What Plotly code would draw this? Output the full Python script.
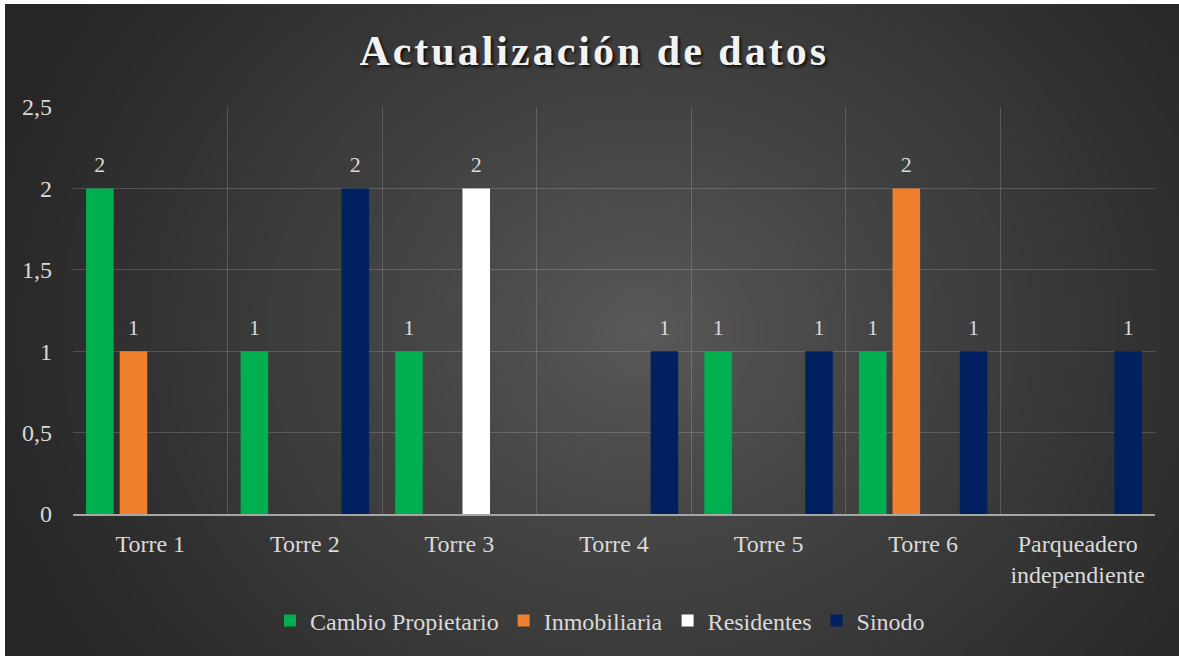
import base64
import struct
import zlib

import plotly.graph_objects as go

# data
categories = ['Torre 1', 'Torre 2', 'Torre 3', 'Torre 4', 'Torre 5', 'Torre 6',
              'Parqueadero<br>independiente']
cambio_propietario = [2, 1, 1, 0, 1, 1, 0]
inmobiliaria = [1, 0, 0, 0, 0, 2, 0]
residentes = [0, 0, 2, 0, 0, 0, 0]
sinodo = [0, 2, 0, 1, 1, 1, 1]

series = [
    ('Cambio Propietario', cambio_propietario, '#00B050'),
    ('Inmobiliaria', inmobiliaria, '#F07F2E'),
    ('Residentes', residentes, '#FFFFFF'),
    ('Sinodo', sinodo, '#002060'),
]

W, H = 1179, 656
L, R, T, B = 73, 24, 107, 142


# dark radial background (Excel style), drawn as a small png stretched over the page
def radial_png(w, h):
    cx, cy, rx, ry = 0.54 * w, 0.50 * h, 0.58 * w, 0.90 * h
    rows = []
    for j in range(h):
        row = bytearray([0])
        for i in range(w):
            t = (((i - cx) / rx) ** 2 + ((j - cy) / ry) ** 2) ** 0.5
            t = min(t, 1.0) ** 0.85
            v = int(round(90 - (90 - 38) * t))
            row += bytes((v, v, v))
        rows.append(bytes(row))

    def chunk(tag, data):
        c = struct.pack('>I', len(data)) + tag + data
        return c + struct.pack('>I', zlib.crc32(tag + data) & 0xffffffff)

    png = b'\x89PNG\r\n\x1a\n'
    png += chunk(b'IHDR', struct.pack('>IIBBBBB', w, h, 8, 2, 0, 0, 0))
    png += chunk(b'IDAT', zlib.compress(b''.join(rows), 9))
    png += chunk(b'IEND', b'')
    return 'data:image/png;base64,' + base64.b64encode(png).decode()


bg_src = radial_png(294, 163)

fig = go.Figure()

for name, vals, color in series:
    fig.add_trace(go.Bar(
        x=categories, y=vals, name=name,
        marker=dict(color=color, line=dict(width=0)),
        offsetgroup=name,
        hoverinfo='x+y+name',
    ))

# data labels, placed with the bars through scattermode='group'
for name, vals, color in series:
    fig.add_trace(go.Scatter(
        x=categories, y=vals, mode='markers+text',
        text=[str(v) if v else '' for v in vals],
        textposition='top center',
        textfont=dict(family='Liberation Serif', size=22, color='#D9D9D9'),
        marker=dict(size=16, opacity=0),
        offsetgroup=name, showlegend=False, hoverinfo='skip', cliponaxis=False,
    ))

pw = W - L - R
ph = H - T - B

fig.update_layout(
    width=W, height=H,
    margin=dict(l=L, r=R, t=T, b=B),
    paper_bgcolor='white',
    plot_bgcolor='rgba(0,0,0,0)',
    separators=',.',
    barmode='group', bargap=0.13, bargroupgap=0.18,
    scattermode='group', scattergap=0.13,
    title=dict(
        text='<span style="letter-spacing:3px">Actualización de datos</span>',
        x=0.504, xanchor='center', y=1 - 50 / H, yanchor='middle',
        font=dict(family='Liberation Serif', size=42, color='#F2F2F2',
                  weight='bold', shadow='2px 2px 3px rgba(0,0,0,0.8)'),
    ),
    font=dict(family='Liberation Serif', color='#D9D9D9'),
    images=[dict(
        source=bg_src, xref='paper', yref='paper',
        x=(5 - L) / pw, y=(H - B - 4) / ph,
        sizex=(W - 5) / pw, sizey=(H - 4) / ph,
        xanchor='left', yanchor='top', sizing='stretch', layer='below',
    )],
    legend=dict(
        orientation='h', x=(600 - L) / pw, xanchor='center',
        y=-(621 - (H - B)) / ph, yanchor='middle',
        font=dict(family='Liberation Serif', size=24, color='#D9D9D9'),
        bgcolor='rgba(0,0,0,0)', itemwidth=30, traceorder='normal',
    ),
    xaxis=dict(
        tickson='boundaries', showgrid=True, gridcolor='rgba(255,255,255,0.17)',
        gridwidth=1, ticks='', showline=True, linecolor='#A6A6A6', linewidth=2,
        tickfont=dict(family='Liberation Serif', size=24, color='#D9D9D9'),
        ticklabelstandoff=7,
    ),
    yaxis=dict(
        range=[0, 2.5], dtick=0.5, showgrid=True,
        gridcolor='rgba(255,255,255,0.17)', gridwidth=1, zeroline=False,
        tickfont=dict(family='Liberation Serif', size=24, color='#D9D9D9'),
        ticklabelstandoff=20,
    ),
)

# the page is photographed from its top-left corner, so drop the default body margin
fig.write_html('out.html', config={'displayModeBar': False},
               post_script="document.body.style.margin='0px';")
